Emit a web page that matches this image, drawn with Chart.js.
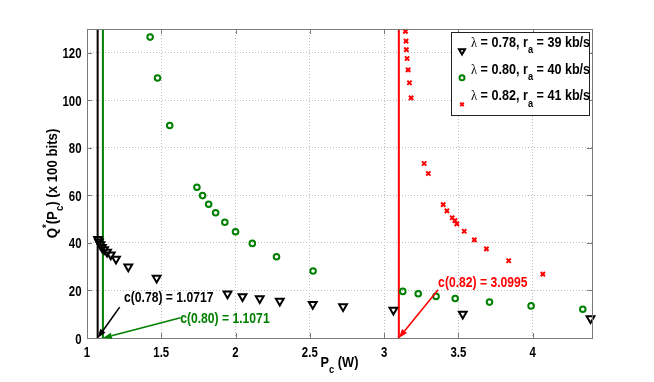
<!DOCTYPE html>
<html>
<head>
<meta charset="utf-8">
<script src="https://cdn.jsdelivr.net/npm/chart.js@4/dist/chart.umd.min.js"></script>
<style>
  html, body { margin: 0; padding: 0; background: #fff; }
  #wrap { width: 654px; height: 382px; }
</style>
</head>
<body>
<div id="wrap"><canvas id="chart" width="654" height="382"></canvas></div>
<script>
// Q*(Pc) vs Pc for three arrival rates

// lambda = 0.78, ra = 39 kb/s
const pcA = [1.075, 1.08, 1.09, 1.10, 1.115, 1.135, 1.16, 1.195, 1.278, 1.469, 1.946, 2.047, 2.163, 2.298, 2.52, 2.724, 3.063, 3.53, 4.39];
const qA  = [41.5, 40.5, 39.3, 38.2, 37.2, 36.2, 35.0, 33.2, 30.0, 25.2, 18.6, 17.5, 16.6, 15.6, 14.2, 13.2, 11.8, 10.1, 8.2];
// lambda = 0.80, ra = 40 kb/s
const pcB = [1.425, 1.475, 1.557, 1.740, 1.778, 1.819, 1.866, 1.928, 2.0, 2.113, 2.276, 2.522, 3.126, 3.23, 3.35, 3.479, 3.71, 3.99, 4.338];
const qB  = [126.6, 109.4, 89.4, 63.4, 59.9, 56.3, 52.7, 48.7, 44.7, 39.8, 34.2, 28.2, 19.6, 18.6, 17.5, 16.6, 15.1, 13.5, 12.1];
// lambda = 0.82, ra = 41 kb/s
const pcC = [3.144, 3.148, 3.150, 3.155, 3.162, 3.171, 3.182, 3.27, 3.298, 3.398, 3.423, 3.459, 3.477, 3.49, 3.54, 3.608, 3.689, 3.839, 4.069];
const qC  = [129, 124.9, 121.3, 117.6, 112.8, 107.4, 101, 73.4, 69.2, 56.1, 53.5, 50.6, 49.4, 48.0, 44.9, 41.3, 37.5, 32.5, 26.9];

// critical powers c(lambda)
const cValues = [1.0717, 1.1071, 3.0995];
const cLabels = ['c(0.78) = 1.0717', 'c(0.80) = 1.1071', 'c(0.82) = 3.0995'];

const seriesLambda = ['0.78', '0.80', '0.82'];
const seriesRate = ['39', '40', '41'];

const xTicks = [1, 1.5, 2, 2.5, 3, 3.5, 4];
const yTicks = [0, 20, 40, 60, 80, 100, 120];

const GREEN = 'rgb(0,128,0)';
const RED = 'rgb(255,0,0)';
const colors = ['#000', GREEN, RED];
const FONT = '"Liberation Sans", Arial, sans-serif';
const SERIF = '"Liberation Serif", "Times New Roman", serif';

// where the annotation text sits and where its arrow starts (data units)
const annoText = [[1.249, 15.2], [1.627, 6.3], [3.364, 21.5]];
const annoTail = [[1.22, 13], [1.63, 8.5], [3.364, 20.3]];

function pts(xs, ys) {
    return xs.map((x, i) => ({ x: x, y: ys[i] }));
}

const markerStyles = [
    { pointStyle: 'triangle', rotation: 180, radius: 4.5, borderWidth: 2 },
    { pointStyle: 'circle', rotation: 0, radius: 2.8, borderWidth: 2 },
    { pointStyle: 'crossRot', rotation: 0, radius: 3, borderWidth: 2 }
];

// text is horizontally squeezed in the original, so sx < 1
function drawRich(ctx, parts, x, y, align, color, size, sx) {
    ctx.save();
    ctx.fillStyle = color;
    ctx.textBaseline = 'alphabetic';
    ctx.textAlign = 'left';
    const fonts = parts.map(p => {
        const s = (p.sub || p.sup) ? Math.round(size * 0.75) : size;
        return (p.serif ? '' : 'bold ') + s + 'px ' + (p.serif ? SERIF : FONT);
    });
    const widths = parts.map((p, i) => {
        ctx.font = fonts[i];
        return ctx.measureText(p.t).width;
    });
    const w = widths.reduce((a, b) => a + b, 0);
    let x0 = align === 'center' ? -w / 2 : align === 'right' ? -w : 0;
    ctx.translate(x, y);
    ctx.scale(sx, 1);
    parts.forEach((p, i) => {
        ctx.font = fonts[i];
        const dy = p.sub ? size * 0.42 : p.sup ? -size * 0.45 : 0;
        ctx.fillText(p.t, x0, dy);
        x0 += widths[i];
    });
    ctx.restore();
}

function arrow(ctx, x1, y1, x2, y2, color) {
    const ang = Math.atan2(y2 - y1, x2 - x1);
    const len = 9, half = 3.2;
    const bx = x2 - len * Math.cos(ang), by = y2 - len * Math.sin(ang);
    ctx.save();
    ctx.strokeStyle = color;
    ctx.fillStyle = color;
    ctx.lineWidth = 1.6;
    ctx.beginPath();
    ctx.moveTo(x1, y1);
    ctx.lineTo(bx, by);
    ctx.stroke();
    ctx.beginPath();
    ctx.moveTo(x2, y2);
    ctx.lineTo(bx + half * Math.sin(ang), by - half * Math.cos(ang));
    ctx.lineTo(bx - half * Math.sin(ang), by + half * Math.cos(ang));
    ctx.closePath();
    ctx.fill();
    ctx.restore();
}

const decorPlugin = {
    id: 'decor',
    afterDraw(chart) {
        const ctx = chart.ctx;
        const a = chart.chartArea;
        const xs = chart.scales.x, ys = chart.scales.y;

        // axes box and inward ticks
        ctx.save();
        ctx.strokeStyle = '#7a7a7a';
        ctx.lineWidth = 1;
        ctx.strokeRect(Math.round(a.left) + 0.5, Math.round(a.top) + 0.5, Math.round(a.width), Math.round(a.height));
        ctx.beginPath();
        xTicks.forEach(v => {
            const px = Math.round(xs.getPixelForValue(v)) + 0.5;
            ctx.moveTo(px, a.bottom); ctx.lineTo(px, a.bottom - 5);
            ctx.moveTo(px, a.top); ctx.lineTo(px, a.top + 5);
        });
        yTicks.forEach(v => {
            const py = Math.round(ys.getPixelForValue(v)) + 0.5;
            ctx.moveTo(a.left, py); ctx.lineTo(a.left + 5, py);
            ctx.moveTo(a.right, py); ctx.lineTo(a.right - 5, py);
        });
        ctx.stroke();
        ctx.restore();

        // tick labels
        xTicks.forEach(v => {
            drawRich(ctx, [{ t: String(v) }], xs.getPixelForValue(v), a.bottom + 18.5, 'center', '#000', 15, 0.76);
        });
        yTicks.forEach(v => {
            drawRich(ctx, [{ t: String(v) }], a.left - 5.5, ys.getPixelForValue(v) + 5.5, 'right', '#000', 15, 0.76);
        });

        // axis titles
        drawRich(ctx, [{ t: 'P' }, { t: 'c', sub: true }, { t: ' (W)' }],
            (a.left + a.right) / 2, a.bottom + 29, 'center', '#000', 15, 0.85);
        ctx.save();
        ctx.translate(57, (a.top + a.bottom) / 2);
        ctx.rotate(-Math.PI / 2);
        drawRich(ctx, [{ t: 'Q' }, { t: '*', sup: true }, { t: '(P' }, { t: 'c', sub: true }, { t: ') (x 100 bits)' }],
            0, 0, 'center', '#000', 15, 0.88);
        ctx.restore();

        // c(lambda) annotations
        cValues.forEach((c, i) => {
            arrow(ctx, xs.getPixelForValue(annoTail[i][0]), ys.getPixelForValue(annoTail[i][1]),
                xs.getPixelForValue(c), ys.getPixelForValue(0), colors[i]);
            drawRich(ctx, [{ t: cLabels[i] }], xs.getPixelForValue(annoText[i][0]),
                ys.getPixelForValue(annoText[i][1]), 'left', colors[i], 15, 0.81);
        });

        // legend box
        const lx = 451, ly = 32, lw = 138, lh = 83;
        ctx.save();
        ctx.fillStyle = '#fff';
        ctx.fillRect(lx, ly, lw, lh);
        ctx.strokeStyle = '#222';
        ctx.lineWidth = 1;
        ctx.strokeRect(lx + 0.5, ly + 0.5, lw, lh);
        ctx.restore();
        seriesLambda.forEach((lam, i) => {
            const rowY = ly + 15 + i * 26.7;
            ctx.save();
            ctx.strokeStyle = colors[i];
            ctx.fillStyle = 'rgba(0,0,0,0)';
            const st = markerStyles[i];
            ctx.lineWidth = st.borderWidth;
            Chart.helpers.drawPoint(ctx, {
                pointStyle: st.pointStyle, rotation: st.rotation,
                radius: st.pointStyle === 'triangle' ? 3.5 : 2.5, borderWidth: st.borderWidth
            }, 462, rowY + 4);
            ctx.restore();
            drawRich(ctx, [
                { t: '\u03bb', serif: true },
                { t: ' = ' + lam + ', r' },
                { t: 'a', sub: true },
                { t: ' = ' + seriesRate[i] + ' kb/s' }
            ], 471, rowY, 'left', '#000', 15, 0.84);
        });
    }
};

const scatterSets = [[pcA, qA], [pcB, qB], [pcC, qC]].map((s, i) => ({
    type: 'scatter',
    label: '\u03bb = ' + seriesLambda[i] + ', ra = ' + seriesRate[i] + ' kb/s',
    data: pts(s[0], s[1]),
    borderColor: colors[i],
    backgroundColor: 'rgba(255,255,255,0)',
    pointStyle: markerStyles[i].pointStyle,
    rotation: markerStyles[i].rotation,
    pointRadius: markerStyles[i].radius,
    pointBorderWidth: markerStyles[i].borderWidth,
    pointHoverRadius: markerStyles[i].radius,
    clip: false
}));

const cLines = cValues.map((c, i) => ({
    type: 'line',
    label: cLabels[i],
    data: [{ x: c, y: 0 }, { x: c, y: 130 }],
    borderColor: colors[i],
    borderWidth: 2,
    pointRadius: 0,
    fill: false
}));

new Chart(document.getElementById('chart').getContext('2d'), {
    type: 'scatter',
    data: { datasets: scatterSets.concat(cLines) },
    options: {
        responsive: false,
        animation: false,
        events: [],
        layout: { padding: { left: 0, right: 62, top: 29, bottom: 0 } },
        plugins: { legend: { display: false }, tooltip: { enabled: false } },
        scales: {
            x: {
                type: 'linear',
                min: 1,
                max: 4.4,
                afterBuildTicks: s => { s.ticks = xTicks.map(v => ({ value: v })); },
                afterFit: s => { s.height = 44; },
                ticks: { display: false },
                grid: { color: '#bcbcbc', drawTicks: false, lineWidth: 1 },
                border: { display: false, dash: [1, 2] }
            },
            y: {
                type: 'linear',
                min: 0,
                max: 130,
                afterBuildTicks: s => { s.ticks = yTicks.map(v => ({ value: v })); },
                afterFit: s => { s.width = 87; },
                ticks: { display: false },
                grid: { color: '#bcbcbc', drawTicks: false, lineWidth: 1 },
                border: { display: false, dash: [1, 2] }
            }
        }
    },
    plugins: [decorPlugin]
});
</script>
</body>
</html>
